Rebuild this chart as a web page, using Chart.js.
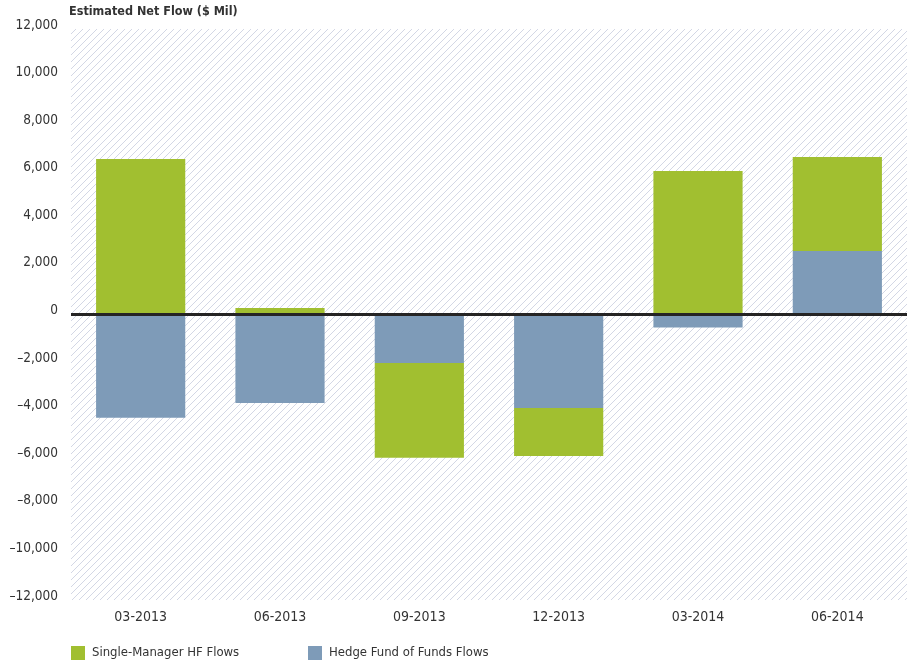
<!DOCTYPE html>
<html>
<head>
<meta charset="utf-8">
<title>Estimated Net Flow</title>
<script src="https://cdn.jsdelivr.net/npm/chart.js@4/dist/chart.umd.min.js"></script>
<style>
  html, body { margin: 0; padding: 0; background: #fff; }
  #wrap { width: 915px; height: 664px; position: relative; }
</style>
</head>
<body>
<div id="wrap"><canvas id="flowChart"></canvas></div>
<script>
// quarterly net flows, $ millions
const quarters = ['03-2013', '06-2013', '09-2013', '12-2013', '03-2014', '06-2014'];
const singleManagerFlows = [6540, 270, -3980, -2020, 6030, 3950];
const fundOfFundsFlows = [-4340, -3720, -2040, -3930, -550, 2670];
const yTicks = [-12000, -10000, -8000, -6000, -4000, -2000, 0, 2000, 4000, 6000, 8000, 10000, 12000];

const greenColor = '#a1bf30';
const blueColor = '#7e9bb8';
const fontFamily = '"Liberation Sans Narrow", "DejaVu Sans Condensed", "Liberation Sans", sans-serif';
const textColor = '#333333';

// diagonal hatch used behind the bars
function makeHatch() {
    const c = document.createElement('canvas');
    c.width = 7;
    c.height = 7;
    const g = c.getContext('2d');
    g.strokeStyle = '#d3d7e5';
    g.lineWidth = 1;
    g.beginPath();
    g.moveTo(-1, 8); g.lineTo(8, -1);
    g.moveTo(-1, 1); g.lineTo(1, -1);
    g.moveTo(6, 8); g.lineTo(8, 6);
    g.stroke();
    return c;
}

const hatchBackground = {
    id: 'hatchBackground',
    beforeDraw(chart) {
        const { ctx, chartArea: a } = chart;
        ctx.save();
        ctx.fillStyle = ctx.createPattern(makeHatch(), 'repeat');
        ctx.fillRect(a.left, a.top, a.right - a.left, a.bottom - a.top);
        ctx.restore();
    }
};

// title above the plot and the legend row underneath
const titleAndLegend = {
    id: 'titleAndLegend',
    afterDraw(chart) {
        const { ctx, chartArea: a } = chart;
        ctx.save();
        ctx.fillStyle = textColor;
        ctx.font = 'bold 12.5px ' + fontFamily;
        ctx.textBaseline = 'middle';
        ctx.fillText('Estimated Net Flow ($ Mil)', a.left - 2, 12);

        const items = [chart.data.datasets[1], chart.data.datasets[0]];
        const xs = [71, 308];
        ctx.font = '13px ' + fontFamily;
        items.forEach((ds, i) => {
            ctx.fillStyle = ds.backgroundColor;
            ctx.fillRect(xs[i], 646, 14, 14);
            ctx.fillStyle = textColor;
            ctx.fillText(ds.label, xs[i] + 21, 653);
        });
        ctx.restore();
    }
};

function fmt(v) {
    const s = Math.abs(v).toLocaleString('en-US');
    return v < 0 ? '\u2013' + s : s;
}

const ctx = document.getElementById('flowChart').getContext('2d');

const flowChart = new Chart(ctx, {
    type: 'bar',
    data: {
        labels: quarters,
        datasets: [
            {
                label: 'Hedge Fund of Funds Flows',
                data: fundOfFundsFlows,
                backgroundColor: blueColor,
                borderWidth: 0,
                categoryPercentage: 1,
                barPercentage: 0.64
            },
            {
                label: 'Single-Manager HF Flows',
                data: singleManagerFlows,
                backgroundColor: greenColor,
                borderWidth: 0,
                categoryPercentage: 1,
                barPercentage: 0.64
            }
        ]
    },
    plugins: [hatchBackground, titleAndLegend],
    options: {
        responsive: true,
        maintainAspectRatio: false,
        animation: false,
        layout: { padding: { top: 29, right: 8, bottom: 0, left: 0 } },
        plugins: {
            legend: { display: false },
            tooltip: { enabled: false }
        },
        scales: {
            x: {
                stacked: true,
                grid: { display: false, drawTicks: false },
                border: { display: false },
                ticks: {
                    padding: 9,
                    color: textColor,
                    font: { family: fontFamily, size: 14 }
                },
                afterFit(scale) { scale.height = 64; }
            },
            y: {
                stacked: true,
                min: -12000,
                max: 12000,
                z: 1,
                afterBuildTicks(scale) {
                    scale.ticks = yTicks.map(v => ({ value: v }));
                },
                afterFit(scale) { scale.width = 71; },
                grid: {
                    drawTicks: false,
                    color: c => (c.tick && c.tick.value === 0 ? '#252424' : 'rgba(0,0,0,0)'),
                    lineWidth: c => (c.tick && c.tick.value === 0 ? 3 : 0)
                },
                border: { display: false },
                ticks: {
                    padding: 13,
                    labelOffset: -4,
                    color: textColor,
                    font: { family: fontFamily, size: 13.5 },
                    callback: v => fmt(v)
                }
            }
        }
    }
});
</script>
</body>
</html>
